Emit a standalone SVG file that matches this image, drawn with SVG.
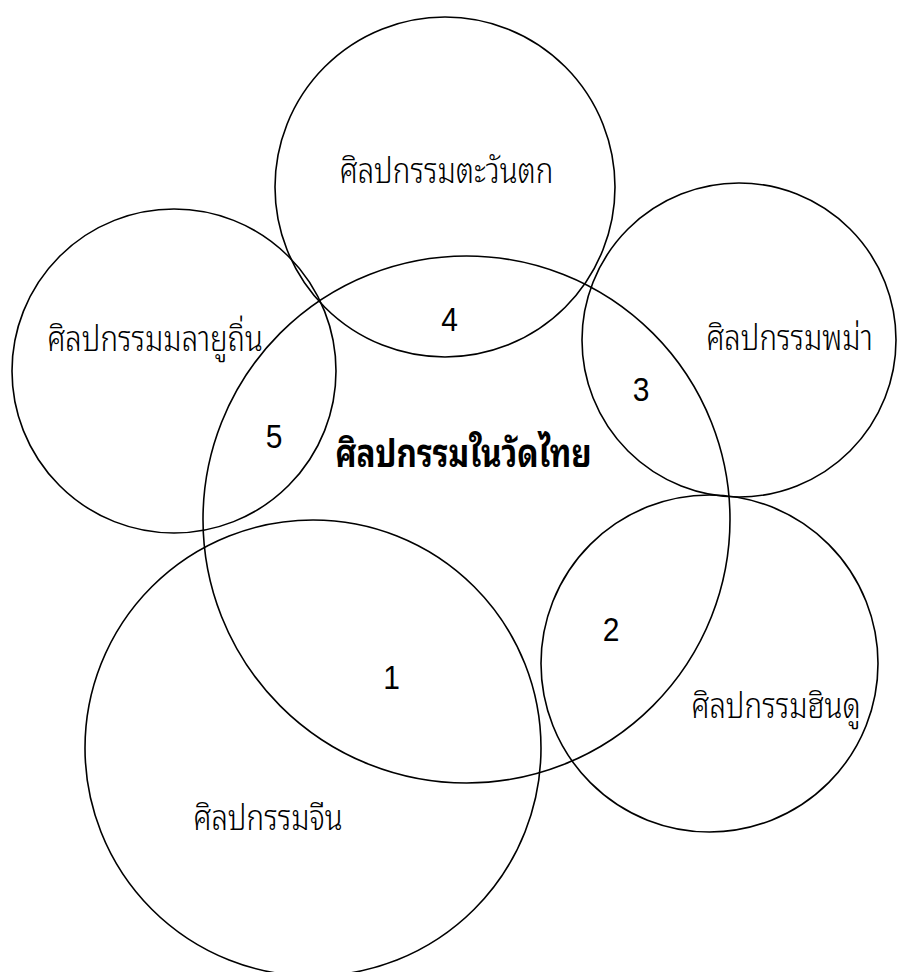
<svg xmlns="http://www.w3.org/2000/svg" width="897" height="972" viewBox="0 0 897 972">
  <style>
    .ring { fill: none; stroke: #000; stroke-width: 1.6; }
    .label { font-family: "Noto Sans Thai Looped", "Noto Sans Thai", "Noto Sans", "Liberation Sans", sans-serif; font-size: 29.5px; font-weight: 300; fill: #000; text-anchor: middle; }
    .core { font-size: 31.5px; font-weight: bold; }
    .num { font-family: "Liberation Sans", Arial, sans-serif; font-size: 30px; fill: #000; text-anchor: middle; }
  </style>
  <rect width="897" height="972" fill="#fff"/>

  <g id="connectors"></g>

  <!-- central set: Thai temple art -->
  <g id="thai-temple">
    <circle class="ring" cx="466.5" cy="519.5" r="263.5"/>
    <text class="label core" transform="translate(463.5 467) scale(1 1.2)">ศิลปกรรมในวัดไทย</text>
  </g>

  <g id="western">
    <circle class="ring" cx="445" cy="187" r="170"/>
    <text class="label" transform="translate(446.5 183) scale(1 1.2)">ศิลปกรรมตะวันตก</text>
  </g>

  <g id="malay">
    <circle class="ring" cx="174" cy="371" r="162"/>
    <text class="label" transform="translate(155 351) scale(1 1.2)">ศิลปกรรมมลายูถิ่น</text>
  </g>

  <g id="burmese">
    <circle class="ring" cx="739" cy="340" r="157"/>
    <text class="label" transform="translate(789.5 350) scale(1 1.2)">ศิลปกรรมพม่า</text>
  </g>

  <g id="hindu">
    <circle class="ring" cx="709.5" cy="663.5" r="168.5"/>
    <text class="label" transform="translate(776 718) scale(1 1.2)">ศิลปกรรมฮินดู</text>
  </g>

  <g id="chinese">
    <circle class="ring" cx="313" cy="748" r="228"/>
    <text class="label" transform="translate(268 830) scale(1 1.2)">ศิลปกรรมจีน</text>
  </g>

  <!-- overlap numbers -->
  <g id="overlaps">
    <text class="num" transform="translate(391.5 689) scale(1 1.1)">1</text>
    <text class="num" transform="translate(611 641) scale(1 1.1)">2</text>
    <text class="num" transform="translate(641 401) scale(1 1.1)">3</text>
    <text class="num" transform="translate(449.5 331) scale(1 1.1)">4</text>
    <text class="num" transform="translate(274 448) scale(1 1.1)">5</text>
  </g>
</svg>
